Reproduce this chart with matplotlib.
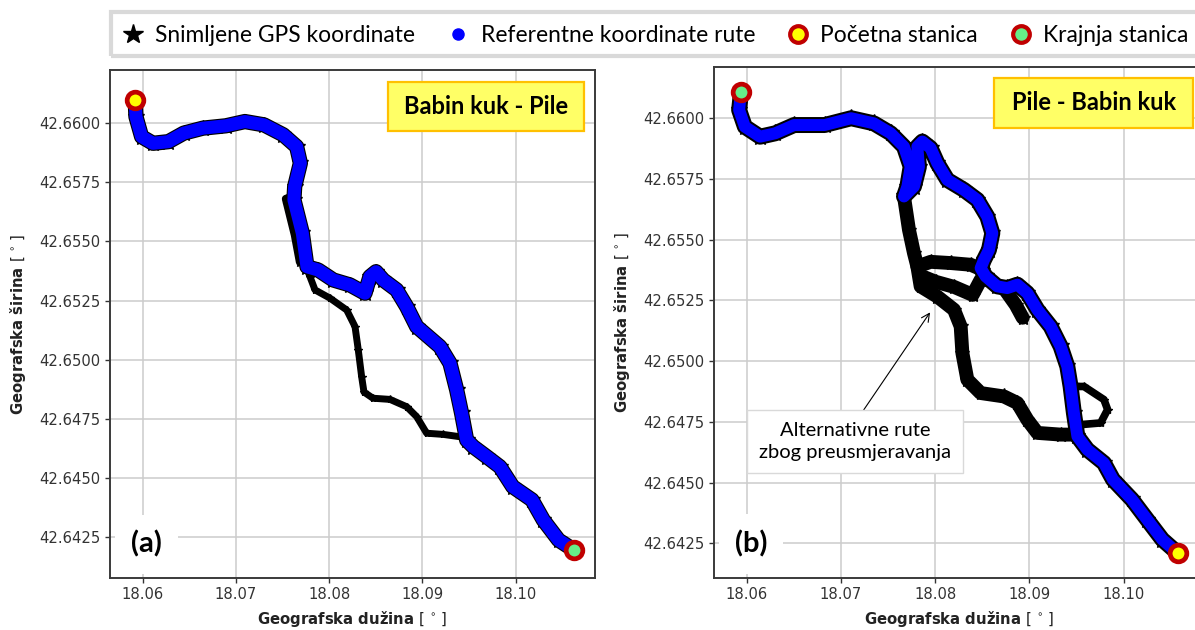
import numpy as np
import matplotlib
matplotlib.use('Agg')
import matplotlib.pyplot as plt
from matplotlib.lines import Line2D
from matplotlib.patches import Rectangle
from matplotlib.ticker import MultipleLocator, FormatStrFormatter

# ---- data ----
# (a) Babin kuk -> Pile, reference route
ref_a_lon = np.array([18.05920, 18.05928, 18.05989, 18.06111, 18.06277, 18.06441, 18.06645, 18.06892,
                      18.07096, 18.07301, 18.07507, 18.07651, 18.07691, 18.07630, 18.07622, 18.07712,
                      18.07762, 18.07883, 18.08044, 18.08223, 18.08384, 18.08437, 18.08502, 18.08580,
                      18.08723, 18.08831, 18.08938, 18.09188, 18.09295, 18.09367, 18.09420, 18.09474,
                      18.09545, 18.09688, 18.09831, 18.09968, 18.10174, 18.10296, 18.10460, 18.10624])
ref_a_lat = np.array([42.66099, 42.66028, 42.65943, 42.65915, 42.65922, 42.65958, 42.65979, 42.65989,
                      42.66007, 42.65993, 42.65951, 42.65901, 42.65831, 42.65732, 42.65676, 42.65535,
                      42.65393, 42.65379, 42.65337, 42.65316, 42.65281, 42.65351, 42.65372, 42.65337,
                      42.65295, 42.65224, 42.65140, 42.65055, 42.64985, 42.64872, 42.64773, 42.64660,
                      42.64632, 42.64590, 42.64547, 42.64463, 42.64407, 42.64322, 42.64237, 42.64195])
# (a) recorded GPS: detour and a strand beside the route
alt_a_lon = np.array([18.07751, 18.07794, 18.07848, 18.08009, 18.08188, 18.08277, 18.08312, 18.08348,
                      18.08373, 18.08469, 18.08652, 18.08831, 18.08938, 18.09045, 18.09223, 18.09423])
alt_a_lat = np.array([42.65396, 42.65351, 42.65295, 42.65260, 42.65210, 42.65140, 42.65041, 42.64928,
                      42.64863, 42.64837, 42.64832, 42.64801, 42.64759, 42.64689, 42.64684, 42.64673])
strand_a_lon = np.array([18.07537, 18.07633, 18.07687])
strand_a_lat = np.array([42.65680, 42.65527, 42.65413])

# (b) Pile -> Babin kuk, reference route (listed from Babin kuk end)
ref_b_lon = np.array([18.05939, 18.05919, 18.05980, 18.06141, 18.06303, 18.06503, 18.06826, 18.07108,
                      18.07349, 18.07528, 18.07669, 18.07740, 18.07705, 18.07669, 18.07775, 18.07828,
                      18.07811, 18.07864, 18.07952, 18.08023, 18.08130, 18.08306, 18.08448, 18.08554,
                      18.08607, 18.08571, 18.08518, 18.08483, 18.08536, 18.08660, 18.08766, 18.08873,
                      18.08979, 18.09085, 18.09226, 18.09332, 18.09403, 18.09438, 18.09473, 18.09510,
                      18.09616, 18.09792, 18.09888, 18.10089, 18.10251, 18.10412, 18.10573])
ref_b_lat = np.array([42.66109, 42.66034, 42.65965, 42.65924, 42.65938, 42.65972, 42.65972, 42.66000,
                      42.65979, 42.65938, 42.65883, 42.65801, 42.65719, 42.65678, 42.65719, 42.65801,
                      42.65883, 42.65904, 42.65877, 42.65815, 42.65746, 42.65705, 42.65664, 42.65595,
                      42.65527, 42.65458, 42.65417, 42.65383, 42.65349, 42.65308, 42.65301, 42.65315,
                      42.65280, 42.65212, 42.65143, 42.65061, 42.64979, 42.64896, 42.64787, 42.64691,
                      42.64636, 42.64581, 42.64513, 42.64431, 42.64348, 42.64266, 42.64211])
# (b) recorded GPS detours
alt_b_lon = np.array([18.07669, 18.07722, 18.07775, 18.07811, 18.07846, 18.08023, 18.08200, 18.08271,
                      18.08289, 18.08342, 18.08483, 18.08730, 18.08873, 18.08979, 18.09085, 18.09332,
                      18.09491])
alt_b_lat = np.array([42.65678, 42.65541, 42.65445, 42.65390, 42.65308, 42.65266, 42.65212, 42.65143,
                      42.65034, 42.64924, 42.64869, 42.64855, 42.64828, 42.64759, 42.64705, 42.64698,
                      42.64698])
upper_b_lon = np.array([18.07811, 18.07952, 18.08164, 18.08377, 18.08504])
upper_b_lat = np.array([42.65390, 42.65409, 42.65404, 42.65397, 42.65376])
lower_b_lon = np.array([18.07846, 18.08005, 18.08200, 18.08398, 18.08483])
lower_b_lat = np.array([42.65352, 42.65327, 42.65306, 42.65273, 42.65335])
spur_b_lon = np.array([18.08727, 18.08855, 18.08929])
spur_b_lat = np.array([42.65302, 42.65232, 42.65179])
loop_b_lon = np.array([18.09438, 18.09580, 18.09792, 18.09831, 18.09757, 18.09545, 18.09474])
loop_b_lat = np.array([42.64896, 42.64896, 42.64842, 42.64801, 42.64746, 42.64739, 42.64739])

legend_labels = ['Snimljene GPS koordinate', 'Referentne koordinate rute',
                 'Početna stanica', 'Krajnja stanica']
titles = ['Babin kuk - Pile', 'Pile - Babin kuk']
panel_tags = ['(a)', '(b)']

# ---- styles ----
BLUE = '#0000ff'
EDGE = '#c00000'
YELLOW = '#ffff00'
GREEN = '#66ee88'
FONT = 'Lato'


def gps(ax, lon, lat, lw):
    ax.plot(lon, lat, '-', color='black', lw=lw, solid_capstyle='round',
            solid_joinstyle='round', zorder=2)
    ax.plot(lon, lat, '*', color='black', ms=lw * 1.1, zorder=2)


def route(ax, lon, lat, lw):
    ax.plot(lon, lat, '-', color=BLUE, lw=lw, solid_capstyle='round',
            solid_joinstyle='round', zorder=3)


def station(ax, lon, lat, fc):
    ax.plot(lon, lat, 'o', ms=12, mfc=fc, mec=EDGE, mew=3.4, zorder=6)


def style_axes(ax, ylim, title, tag):
    ax.set_xlim(18.0565, 18.1085)
    ax.set_ylim(*ylim)
    ax.xaxis.set_major_locator(MultipleLocator(0.01))
    ax.yaxis.set_major_locator(MultipleLocator(0.0025))
    ax.xaxis.set_major_formatter(FormatStrFormatter('%.2f'))
    ax.yaxis.set_major_formatter(FormatStrFormatter('%.4f'))
    ax.grid(True, color='#cccccc', lw=1.1)
    ax.set_axisbelow(True)
    for sp in ax.spines.values():
        sp.set_color('#3a3a3a')
        sp.set_linewidth(1.4)
    ax.tick_params(direction='out', length=3.5, width=1, colors='#333333',
                   labelsize=10.6, pad=3.5)
    ax.set_xlabel(r'Geografska dužina $[\,^\circ\,]$', fontsize=10.7,
                  fontweight='bold', labelpad=5, color='#222222')
    ax.set_ylabel(r'Geografska širina $[\,^\circ\,]$', fontsize=10.7,
                  fontweight='bold', labelpad=8, color='#222222')
    # route name box
    ax.add_patch(Rectangle((0.573, 0.880), 0.405, 0.097, transform=ax.transAxes,
                           fc='#ffff66', ec='#ffc000', lw=1.6, zorder=7))
    ax.text(0.7755, 0.929, title, transform=ax.transAxes, ha='center', va='center',
            fontsize=17, fontweight='bold', family=FONT, zorder=8)
    ax.text(0.076, 0.066, tag, transform=ax.transAxes, ha='center', va='center',
            fontsize=21, fontweight='bold', family=FONT, zorder=8,
            bbox=dict(boxstyle='square,pad=0.55', fc='white', ec='none'))


fig = plt.figure(figsize=(11.95, 6.3), dpi=100)
ax_a = fig.add_axes([0.09205, 0.0830, 0.40586, 0.8059])
ax_b = fig.add_axes([0.59732, 0.0830, 0.40988, 0.8111])

# panel (a)
gps(ax_a, ref_a_lon, ref_a_lat, 11)
gps(ax_a, alt_a_lon, alt_a_lat, 5)
gps(ax_a, strand_a_lon, strand_a_lat, 6)
route(ax_a, ref_a_lon, ref_a_lat, 9.4)
station(ax_a, ref_a_lon[0], ref_a_lat[0], YELLOW)
station(ax_a, ref_a_lon[-1], ref_a_lat[-1], GREEN)
style_axes(ax_a, (42.64078, 42.66225), titles[0], panel_tags[0])

# panel (b)
gps(ax_b, ref_b_lon, ref_b_lat, 11.5)
gps(ax_b, alt_b_lon, alt_b_lat, 10)
gps(ax_b, upper_b_lon, upper_b_lat, 10)
gps(ax_b, lower_b_lon, lower_b_lat, 10)
gps(ax_b, spur_b_lon, spur_b_lat, 10)
gps(ax_b, loop_b_lon, loop_b_lat, 5.5)
route(ax_b, ref_b_lon, ref_b_lat, 8.6)
station(ax_b, ref_b_lon[-1], ref_b_lat[-1], YELLOW)
station(ax_b, ref_b_lon[0], ref_b_lat[0], GREEN)
style_axes(ax_b, (42.64109, 42.66212), titles[1], panel_tags[1])

ax_b.annotate('Alternativne rute\nzbog preusmjeravanja', xy=(18.07946, 42.65201),
              xytext=(18.07151, 42.64668), ha='center', va='center', fontsize=14.5,
              family=FONT, linespacing=1.35, zorder=8,
              bbox=dict(boxstyle='square,pad=0.6', fc='white', ec='#d9d9d9', lw=1),
              arrowprops=dict(arrowstyle='->', color='black', lw=0.8,
                              relpos=(0.5, 1.0), shrinkA=0, shrinkB=0))

# legend across the top
handles = [Line2D([], [], ls='', marker='*', color='black', ms=15),
           Line2D([], [], ls='', marker='o', color=BLUE, ms=8),
           Line2D([], [], ls='', marker='o', mfc=YELLOW, mec=EDGE, mew=3, ms=12),
           Line2D([], [], ls='', marker='o', mfc=GREEN, mec=EDGE, mew=3, ms=12)]
fig.legend(handles, legend_labels, loc='center left', bbox_to_anchor=(123.3 / 1195, 0.9444),
           ncol=4, frameon=False, prop={'family': FONT, 'size': 16.4}, handlelength=0.85,
           handletextpad=0.56, columnspacing=1.45, borderpad=0, borderaxespad=0)
fig.add_artist(Rectangle((111 / 1195, 574 / 630), 1130 / 1195, 44 / 630,
                         transform=fig.transFigure, fill=False, ec='#d9d9d9', lw=3,
                         clip_on=False))

fig.savefig('out.png', dpi=100)
